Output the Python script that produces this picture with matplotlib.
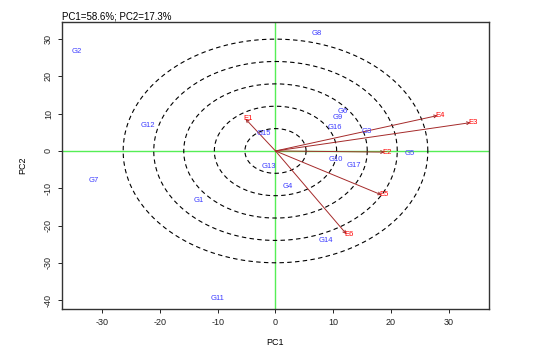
import numpy as np
import matplotlib
matplotlib.use("Agg")
import matplotlib.pyplot as plt

plt.rcParams['font.family'] = ['Liberation Sans', 'DejaVu Sans']
plt.rcParams['axes.unicode_minus'] = False

# genotype scores
gen_names = ["G1", "G2", "G3", "G4", "G5", "G6", "G7", "G8", "G9", "G10",
             "G11", "G12", "G13", "G14", "G15", "G16", "G17"]
gen_pc1 = [-13.3, -34.4, 15.8, 2.1, 23.2, 11.6, -31.5, 7.2, 10.8, 10.5,
           -10.1, -22.2, -1.2, 8.7, -2.1, 10.3, 13.5]
gen_pc2 = [-13.3, 26.8, 5.2, -9.6, -0.7, 10.6, -7.8, 31.5, 9.1, -2.4,
           -39.5, 6.9, -4.2, -24.0, 4.7, 6.4, -3.9]

# environment vectors
env_names = ["E1", "E2", "E3", "E4", "E5", "E6"]
env_pc1 = [-5.2, 18.9, 33.8, 28.1, 18.4, 12.3]
env_pc2 = [8.6, -0.3, 7.6, 9.5, -11.8, -22.3]

# concentric rings (x radius, y radius)
ring_rx = [5.3, 10.6, 15.9, 21.1, 26.4]
ring_ry = [6.0, 12.0, 18.0, 24.0, 30.0]

fig = plt.figure(figsize=(5.42, 3.49), dpi=100)
ax = fig.add_axes([0.1144, 0.1146, 0.7878, 0.8224])

ax.axhline(0, color="#55ee55", lw=1.0, zorder=1)
ax.axvline(0, color="#55ee55", lw=1.0, zorder=1)

t = np.linspace(0, 2 * np.pi, 300)
for rx, ry in zip(ring_rx, ring_ry):
    ax.plot(rx * np.cos(t), ry * np.sin(t), color="black", ls=(0, (4, 3)), lw=0.8, zorder=2)

for x, y in zip(env_pc1, env_pc2):
    ax.annotate("", xy=(x, y), xytext=(0, 0),
                arrowprops=dict(arrowstyle="->", color="#a52a2a", lw=0.7,
                                shrinkA=0, shrinkB=0, mutation_scale=5), zorder=3)
for n, x, y in zip(env_names, env_pc1, env_pc2):
    ax.text(x + 0.5, y, n, color="red", fontsize=5.5, ha="center", va="center", zorder=4)

for n, x, y in zip(gen_names, gen_pc1, gen_pc2):
    ax.text(x, y, n, color="#3b3bff", fontsize=5.5, ha="center", va="center", zorder=4)

ax.set_xlim(-37, 37)
ax.set_ylim(-42.4, 34.6)
ax.set_xticks([-30, -20, -10, 0, 10, 20, 30])
ax.set_yticks([-40, -30, -20, -10, 0, 10, 20, 30])
ax.tick_params(labelsize=6.5, length=3, width=0.7, colors="#222222")
for lab in ax.get_yticklabels():
    lab.set_rotation(90)
    lab.set_va("center")
for s in ax.spines.values():
    s.set_color("#333333")
    s.set_linewidth(1.0)

ax.set_xlabel("PC1", fontsize=6.5, labelpad=8)
ax.set_ylabel("PC2", fontsize=6.5, labelpad=12)
ax.set_title("PC1=58.6%; PC2=17.3%", fontsize=7, loc="left", pad=2)

fig.savefig("out.png", dpi=100)
